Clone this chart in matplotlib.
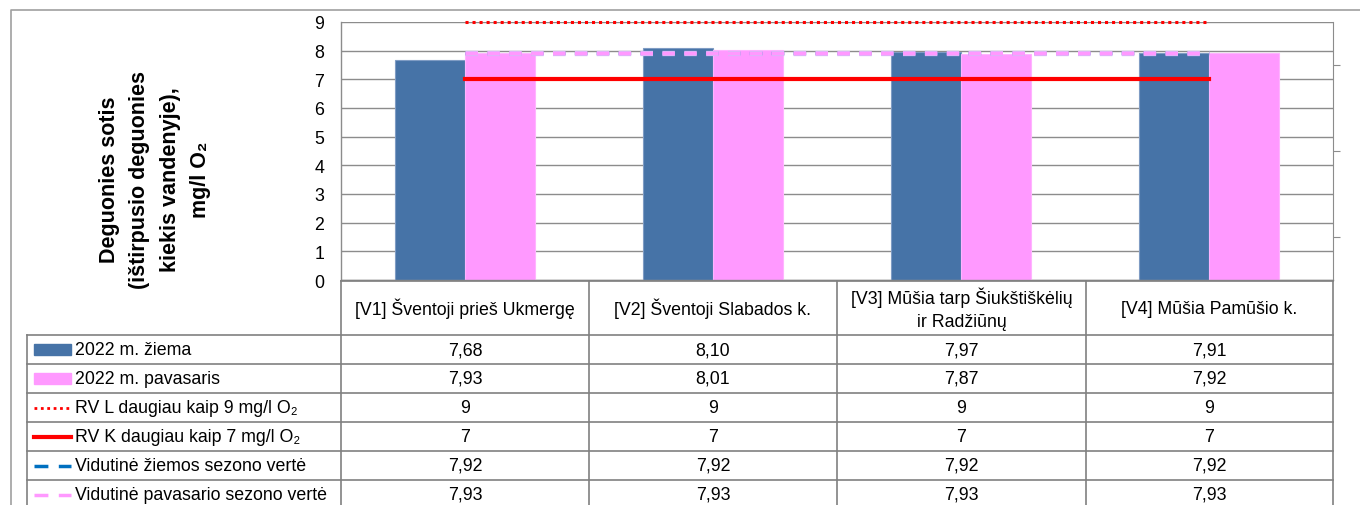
import matplotlib.pyplot as plt
import matplotlib.patheffects as pe
from matplotlib.patches import Rectangle
import numpy as np

plt.rcParams['font.family'] = ['Liberation Sans', 'DejaVu Sans']

# data
sites = ["[V1] Šventoji prieš Ukmergę", "[V2] Šventoji Slabados k.",
         "[V3] Mūšia tarp Šiukštiškėlių\nir Radžiūnų", "[V4] Mūšia Pamūšio k."]
winter = [7.68, 8.10, 7.97, 7.91]
spring = [7.93, 8.01, 7.87, 7.92]
rv_l = [9, 9, 9, 9]
rv_k = [7, 7, 7, 7]
mean_winter = [7.92, 7.92, 7.92, 7.92]
mean_spring = [7.93, 7.93, 7.93, 7.93]
series_names = ["2022 m. žiema", "2022 m. pavasaris",
                "RV L daugiau kaip 9 mg/l O₂", "RV K daugiau kaip 7 mg/l O₂",
                "Vidutinė žiemos sezono vertė", "Vidutinė pavasario sezono vertė"]

W, H = 1360, 506
c_blue = "#4673A7"
c_pink = "#FF99FF"
c_red = "#FF0000"
c_mblue = "#0070C0"
c_grid = "#8C8C8C"
fs = 12.8

fig = plt.figure(figsize=(W / 100, H / 100), dpi=100)

def fx(x):
    return x / W

def fy(y):
    return 1 - y / H

# main plot area
ax = fig.add_axes([fx(341), fy(281), fx(1333) - fx(341), fy(23) - fy(281)])
x = np.arange(len(sites))
bw = 0.284
ax.bar(x - bw / 2, winter, bw, color=c_blue, edgecolor="#7F9CC4", linewidth=0.8, zorder=2)
ax.bar(x + bw / 2, spring, bw, color=c_pink, edgecolor="#FFB3FF", linewidth=0.8, zorder=2)

dash = (0, (3.6, 2.7))
ax.plot(x, rv_l, color=c_red, linestyle=(0, (1, 1.3)), linewidth=2.2, zorder=3, clip_on=False)
ax.plot(x, rv_k, color=c_red, linewidth=3, zorder=3)
ax.plot(x, mean_winter, color=c_mblue, linestyle=dash, linewidth=2.5, zorder=3)
ax.plot(x, mean_spring, color=c_pink, linestyle=dash, linewidth=2.5, zorder=4,
        path_effects=[pe.Stroke(linewidth=3.8, foreground="#D8B8F8"), pe.Normal()])

ax.set_xlim(-0.5, len(sites) - 0.5)
ax.set_ylim(0, 9)
ax.set_yticks(range(0, 10))
ax.set_xticks([])
ax.yaxis.grid(True, color=c_grid, linewidth=1)
ax.set_axisbelow(True)
ax.tick_params(axis="y", length=0, labelsize=fs, pad=12)
for s in ["top", "right"]:
    ax.spines[s].set_visible(False)
for s in ["left", "bottom"]:
    ax.spines[s].set_color(c_grid)
    ax.spines[s].set_linewidth(1)

fig.text(fx(155), fy(180), "Deguonies sotis\n(ištirpusio deguonies\nkiekis vandenyje),\nmg/l O₂",
         rotation=90, ha="center", va="center", multialignment="center",
         fontsize=15.5, fontweight="bold", linespacing=1.6)

# secondary axis on the right (no labels)
ax2 = ax.twinx()
ax2.set_ylim(0, 9)
ax2.set_yticks([1.5, 4.5, 7.5])
ax2.tick_params(axis="y", length=5, color=c_grid, labelright=False)
for s in ["top", "left", "bottom"]:
    ax2.spines[s].set_visible(False)
ax2.spines["right"].set_color(c_grid)

# overlay for the data table and chart border
ov = fig.add_axes([0, 0, 1, 1])
ov.set_xlim(0, W)
ov.set_ylim(H, 0)
ov.axis("off")
ov.patch.set_alpha(0)

# chart border
ov.plot([11, 11, W], [H, 11, 11], color="#A0A0A0", linewidth=1.2)

cols = [341, 589, 837, 1086, 1333]
rows = [336, 365, 394, 423, 452, 481, 510]
tc = "#808080"
ov.plot([341, 1333], [282, 282], color=tc, linewidth=1.2)
for cx in cols:
    ov.plot([cx, cx], [282, 510], color=tc, linewidth=1.2)
ov.plot([27, 27], [336, 510], color=tc, linewidth=1.2)
for ry in rows:
    ov.plot([27, 1333], [ry, ry], color=tc, linewidth=1.2)

for i, name in enumerate(sites):
    ov.text((cols[i] + cols[i + 1]) / 2, 309, name, ha="center", va="center",
            fontsize=fs, linespacing=1.45)

table_rows = [winter, spring, rv_l, rv_k, mean_winter, mean_spring]
for r, vals in enumerate(table_rows):
    cy = (rows[r] + rows[r + 1]) / 2
    for i, v in enumerate(vals):
        txt = str(v) if float(v).is_integer() else f"{v:.2f}".replace(".", ",")
        ov.text((cols[i] + cols[i + 1]) / 2, cy, txt, ha="center", va="center", fontsize=fs)
    ov.text(75, cy, series_names[r], ha="left", va="center", fontsize=fs)

# legend keys in table
cy = [(rows[r] + rows[r + 1]) / 2 for r in range(6)]
ov.add_patch(Rectangle((34, cy[0] - 5.5), 37, 11, color=c_blue))
ov.add_patch(Rectangle((34, cy[1] - 5.5), 37, 11, color=c_pink))
ov.plot([34, 71], [cy[2], cy[2]], color=c_red, linestyle=(0, (1, 1.3)), linewidth=2)
ov.plot([34, 71], [cy[3], cy[3]], color=c_red, linewidth=3)
ov.plot([34, 71], [cy[4], cy[4]], color=c_mblue, linestyle=(0, (4, 3)), linewidth=2.5)
ov.plot([34, 71], [cy[5], cy[5]], color=c_pink, linestyle=(0, (4, 3)), linewidth=2.5)

fig.savefig("out.png", dpi=100)
